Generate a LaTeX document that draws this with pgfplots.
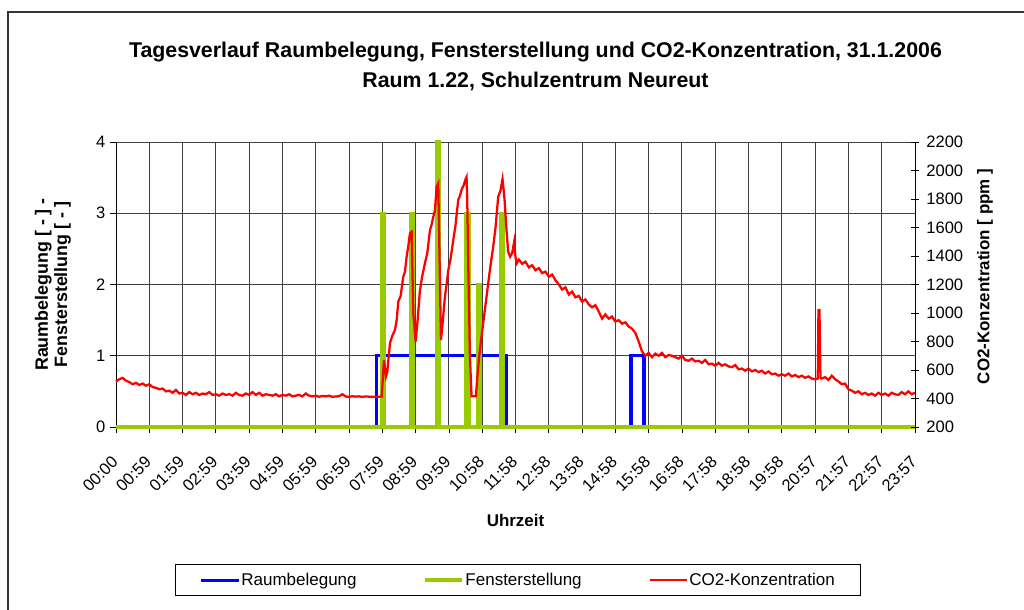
\documentclass[border=0pt]{standalone}
\usepackage{fontspec}
\setmainfont{Liberation Sans}
\usepackage{pgfplots}
\pgfplotsset{compat=1.18}

\definecolor{occblue}{RGB}{0,0,255}
\definecolor{winggreen}{RGB}{153,204,0}
\definecolor{cored}{RGB}{255,0,0}

% Raumbelegung (0/1), Stunden
\pgfplotstableread{
h v
0 0
7.82 0
7.82 1
11.73 1
11.73 0
15.47 0
15.47 1
15.86 1
15.86 0
24 0
}\occupancy

% Fensterstellung
\pgfplotstableread{
h v
0 0
7.99 0
7.99 3
8.07 3
8.07 0
8.86 0
8.86 3
8.93 3
8.93 0
9.63 0
9.63 4
9.70 4
9.70 0
10.50 0
10.50 3
10.53 3
10.53 0
10.58 0
10.58 3
10.62 3
10.62 0
10.87 0
10.87 2
10.93 2
10.93 0
11.57 0
11.57 3
11.64 3
11.64 0
24 0
}\window

% CO2-Konzentration [ppm]
\pgfplotstableread{
h v
0.0 520
0.1 535
0.2 545
0.3 525
0.4 515
0.5 500
0.6 510
0.7 495
0.8 505
0.9 490
1.0 500
1.1 480
1.2 475
1.3 465
1.4 470
1.5 450
1.6 455
1.7 440
1.8 460
1.9 435
2.0 440
2.1 425
2.2 445
2.3 430
2.4 440
2.5 425
2.6 435
2.7 430
2.8 445
2.9 425
3.0 430
3.1 420
3.2 435
3.3 425
3.4 430
3.5 420
3.6 440
3.7 425
3.8 420
3.9 435
4.0 425
4.1 445
4.2 425
4.3 440
4.4 420
4.5 430
4.6 425
4.7 420
4.8 430
4.9 415
5.0 425
5.1 420
5.2 430
5.3 415
5.4 420
5.5 425
5.6 415
5.7 435
5.8 420
5.9 415
6.0 420
6.1 412
6.2 418
6.3 415
6.4 420
6.5 412
6.6 414
6.7 416
6.8 430
6.9 414
7.0 412
7.1 416
7.2 413
7.3 415
7.4 412
7.5 414
7.6 413
7.7 412
7.8 413
7.9 412
7.98 414
8.05 670
8.11 555
8.15 590
8.23 790
8.30 840
8.38 880
8.43 950
8.48 1080
8.55 1120
8.63 1255
8.68 1290
8.73 1395
8.78 1470
8.83 1560
8.88 1570
8.93 1000
9.00 800
9.06 950
9.13 1160
9.20 1260
9.28 1350
9.35 1420
9.43 1580
9.48 1620
9.53 1675
9.58 1720
9.63 1885
9.68 1910
9.73 1230
9.76 810
9.82 950
9.88 1115
9.93 1200
9.98 1300
10.05 1380
10.13 1510
10.20 1620
10.28 1795
10.33 1820
10.38 1865
10.45 1900
10.50 1940
10.53 1955
10.55 1800
10.58 1350
10.63 700
10.68 415
10.81 415
10.87 600
10.93 740
11.03 930
11.13 1115
11.23 1300
11.33 1465
11.40 1600
11.48 1815
11.55 1860
11.61 1940
11.67 1800
11.73 1580
11.78 1430
11.84 1395
11.90 1420
11.96 1500
12.00 1390
12.04 1350
12.1 1375
12.2 1345
12.3 1360
12.4 1320
12.5 1335
12.6 1300
12.7 1315
12.8 1280
12.9 1290
13.0 1255
13.1 1270
13.2 1230
13.3 1200
13.4 1165
13.5 1180
13.6 1130
13.7 1150
13.8 1110
13.9 1120
14.0 1080
14.1 1095
14.2 1060
14.3 1040
14.4 1055
14.5 1010
14.6 960
14.7 990
14.8 960
14.9 975
15.0 940
15.1 950
15.2 925
15.3 935
15.4 905
15.5 890
15.6 860
15.7 800
15.8 730
15.9 700
16.0 720
16.1 690
16.2 715
16.3 700
16.4 720
16.5 690
16.6 705
16.7 700
16.8 690
16.9 680
17.0 700
17.1 670
17.2 665
17.3 680
17.4 660
17.5 665
17.6 650
17.7 670
17.8 640
17.9 645
18.0 630
18.1 650
18.2 630
18.3 640
18.4 625
18.5 620
18.6 635
18.7 605
18.8 610
18.9 595
19.0 610
19.1 590
19.2 600
19.3 585
19.4 595
19.5 575
19.6 590
19.7 570
19.8 575
19.9 560
20.0 570
20.1 560
20.2 575
20.3 555
20.4 565
20.5 550
20.6 560
20.7 545
20.8 555
20.9 540
21.0 535
21.08 540
21.10 1020
21.13 1020
21.16 545
21.2 540
21.3 550
21.4 530
21.5 560
21.6 535
21.7 520
21.8 500
21.9 505
22.0 465
22.1 455
22.2 440
22.3 450
22.4 430
22.5 440
22.6 425
22.7 435
22.8 420
22.9 440
23.0 425
23.1 435
23.2 420
23.3 440
23.4 430
23.5 425
23.6 445
23.7 430
23.8 450
23.9 430
24.0 440
}\cotwo

\begin{document}
\begin{tikzpicture}
\useasboundingbox (0,0) rectangle (768pt,457.5pt);
% Rahmen des Diagramms
\draw[black!80, line width=1.5pt] (6pt,-5pt) |- (775pt,448.5pt);

\pgfplotsset{
  every axis/.append style={
    at={(87pt,137.25pt)}, anchor=south west,
    scale only axis, width=599.25pt, height=213.75pt,
    xmin=0, xmax=24, clip=false,
    axis line style={black, line width=0.75pt},
    /pgf/number format/assume math mode=true,
    /pgf/number format/1000 sep={},
    tick label style={font=\fontsize{12.4pt}{14pt}\selectfont},
    label style={font=\fontsize{12.7pt}{15pt}\selectfont\bfseries},
  },
}

\begin{axis}[
  axis x line*=bottom, axis y line*=left,
  ymin=0, ymax=4, ytick={0,...,4},
  xtick={0,...,24},
  xticklabels={00:00,00:59,01:59,02:59,03:59,04:59,05:59,06:59,07:59,08:59,09:59,10:58,11:58,12:58,13:58,14:58,15:58,16:58,17:58,18:58,19:58,20:57,21:57,22:57,23:57,{}},
  xticklabel style={xshift=-4pt, yshift=-15pt, rotate=45, anchor=north east, inner sep=1pt},
  tick align=outside, major tick length=4.5pt,
  tick style={black, line width=0.6pt},
  grid=major, major grid style={black!75, line width=0.7pt},
  title={Tagesverlauf Raumbelegung, Fensterstellung und CO2-Konzentration, 31.1.2006\\Raum 1.22, Schulzentrum Neureut},
  title style={at={(axis description cs:0.525,1.238)}, anchor=center, align=center,
    font=\fontsize{16pt}{22.5pt}\selectfont\bfseries},
  xlabel={Uhrzeit},
  xlabel style={at={(axis description cs:0.5,-0.327)}, anchor=center},
  ylabel={Raumbelegung [ - ] -\\Fensterstellung [ - ]},
  ylabel style={at={(axis description cs:-0.079,0.5)}, anchor=center, align=center,
    font=\fontsize{13.4pt}{14.5pt}\selectfont\bfseries},
]
\addplot[occblue, line width=2.3pt, line join=miter] table[x=h, y=v] {\occupancy};
\addplot[winggreen, line width=2.6pt, line join=miter] table[x=h, y=v] {\window};
\end{axis}

\begin{axis}[
  axis x line=none, axis y line*=right,
  ymin=200, ymax=2200, ytick={200,400,...,2200},
  tick align=center, major tick length=6pt,
  tick style={black, line width=0.6pt},
  yticklabel style={xshift=2pt},
  ylabel={CO2-Konzentration [ ppm ]},
  ylabel style={at={(axis description cs:1.0876,0.528)}, anchor=center},
  legend columns=3,
  legend style={at={(0.503,-0.537)}, anchor=center, draw=black, line width=0.6pt,
    inner xsep=18pt, inner ysep=5pt,
    font=\fontsize{12.75pt}{15pt}\selectfont,
    nodes={inner sep=1pt},
    /tikz/every even column/.append style={column sep=49pt}},
  legend image code/.code={\draw[#1] (-2pt,0pt) -- (26pt,0pt);},
]
\addlegendimage{occblue, line width=2.3pt}
\addlegendentry{Raumbelegung}
\addlegendimage{winggreen, line width=2.6pt}
\addlegendentry{Fensterstellung}
\addplot[cored, line width=1.7pt] table[x=h, y=v] {\cotwo};
\addlegendentry{CO2-Konzentration}
\end{axis}
\end{tikzpicture}
\end{document}
